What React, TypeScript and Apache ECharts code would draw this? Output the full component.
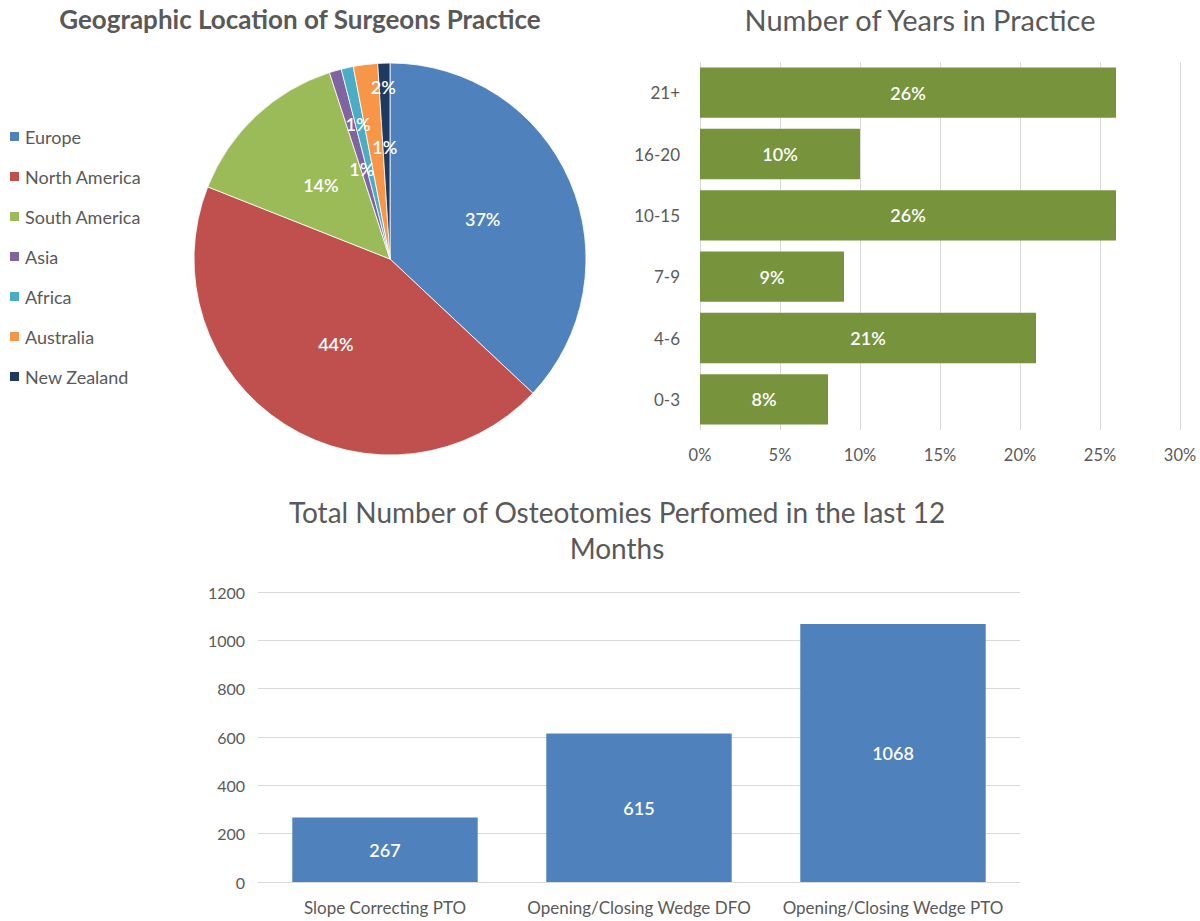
import React, { useEffect, useRef } from "react";
import * as echarts from "echarts";

// pie: where surgeons practice (percent)
const regionNames = ["Europe", "North America", "South America", "Asia", "Africa", "Australia", "New Zealand"];
const regionShares = [37, 44, 14, 1, 1, 2, 1];
const regionColors = ["#4F81BD", "#C0504D", "#9BBB59", "#8064A2", "#4BACC6", "#F79646", "#1F3A5F"];

// horizontal bars: years in practice (percent), bottom to top
const yearBands = ["0-3", "4-6", "7-9", "10-15", "16-20", "21+"];
const yearShares = [8, 21, 9, 26, 10, 26];

// column chart: osteotomies in last 12 months
const procedures = ["Slope Correcting PTO", "Opening/Closing Wedge DFO", "Opening/Closing Wedge PTO"];
const procedureCounts = [267, 615, 1068];

// label nudges for the thin pie slices (Excel moved them apart)
const pieLabelNudge = { 3: { dx: 0, dy: 7 }, 4: { dx: -10, dy: -36 }, 5: { dx: 6, dy: -72 }, 6: { dx: -2, dy: -11 } };

const FONT = "Lato, 'Open Sans', sans-serif";
const GREY = "#595959";
const GRID = "#D9D9D9";

const App = () => {
	const chartRef = useRef(null);

	useEffect(() => {
		if (!chartRef.current) return;
		const chart = echarts.init(chartRef.current, null, { renderer: "svg" });

		const option = {
			animation: false,
			backgroundColor: "#fff",
			textStyle: { fontFamily: FONT },
			graphic: [
				{
					type: "text",
					x: 300,
					y: 19,
					style: { text: "Geographic Location of Surgeons Practice", fontSize: 26, fontWeight: "bold", fill: GREY, fontFamily: FONT, textAlign: "center", textVerticalAlign: "middle" },
				},
				{
					type: "text",
					x: 920,
					y: 19,
					style: { text: "Number of Years in Practice", fontSize: 29, fill: GREY, fontFamily: FONT, textAlign: "center", textVerticalAlign: "middle" },
				},
				{
					type: "text",
					x: 617,
					y: 530,
					style: {
						text: "Total Number of Osteotomies Perfomed in the last 12\nMonths",
						fontSize: 28,
						lineHeight: 36,
						fill: GREY,
						fontFamily: FONT,
						textAlign: "center",
						textVerticalAlign: "middle",
					},
				},
			],
			legend: {
				orient: "vertical",
				left: 3,
				top: 122,
				icon: "rect",
				itemWidth: 11,
				itemHeight: 11,
				itemGap: 21,
				data: regionNames,
				textStyle: { fontSize: 18, color: GREY, lineHeight: 19, fontFamily: FONT },
			},
			grid: [
				{ left: 700, right: 20, top: 62, bottom: 491 },
				{ left: 258, right: 180, top: 592, bottom: 39 },
			],
			xAxis: [
				{
					type: "value",
					gridIndex: 0,
					min: 0,
					max: 30,
					interval: 5,
					axisLine: { show: false },
					axisTick: { show: false },
					axisLabel: { formatter: "{value}%", fontSize: 16.5, color: GREY, margin: 16 },
					splitLine: { lineStyle: { color: GRID } },
				},
				{
					type: "category",
					gridIndex: 1,
					data: procedures,
					axisLine: { lineStyle: { color: GRID } },
					axisTick: { show: false },
					axisLabel: { fontSize: 17, color: GREY, margin: 17, interval: 0 },
				},
			],
			yAxis: [
				{
					type: "category",
					gridIndex: 0,
					data: yearBands,
					axisLine: { show: false },
					axisTick: { show: false },
					axisLabel: { fontSize: 17, color: GREY, margin: 20 },
				},
				{
					type: "value",
					gridIndex: 1,
					min: 0,
					max: 1200,
					interval: 200,
					axisLine: { show: false },
					axisTick: { show: false },
					axisLabel: { fontSize: 16, color: GREY, margin: 13, formatter: (v) => String(v) },
					splitLine: { lineStyle: { color: GRID } },
				},
			],
			series: [
				{
					type: "pie",
					center: [390, 259],
					radius: 196,
					startAngle: 90,
					clockwise: true,
					data: regionNames.map((name, i) => ({ name, value: regionShares[i], itemStyle: { color: regionColors[i] } })),
					itemStyle: { borderColor: "#fff", borderWidth: 0.8 },
					label: { position: "inside", formatter: "{c}%", color: "#fff", fontSize: 18, fontWeight: 600, fontFamily: FONT },
					labelLine: { show: false },
					labelLayout: (params) => pieLabelNudge[params.dataIndex] || {},
					emphasis: { disabled: true },
				},
				{
					type: "bar",
					xAxisIndex: 0,
					yAxisIndex: 0,
					data: yearShares,
					barCategoryGap: "18%",
					itemStyle: { color: "#77933C" },
					label: { show: true, position: "inside", formatter: "{c}%", color: "#fff", fontSize: 18, fontWeight: 600, fontFamily: FONT },
				},
				{
					type: "bar",
					xAxisIndex: 1,
					yAxisIndex: 1,
					data: procedureCounts,
					barCategoryGap: "27%",
					itemStyle: { color: "#4F81BD" },
					label: { show: true, position: "inside", color: "#fff", fontSize: 18, fontWeight: 600, fontFamily: FONT },
				},
			],
		};

		chart.setOption(option);

		return () => {
			chart.dispose();
		};
	}, []);

	return (
		<div
			ref={chartRef}
			style={{ position: "absolute", left: 0, top: 0, width: "1200px", height: "921px" }}
		/>
	);
};

export default App;
